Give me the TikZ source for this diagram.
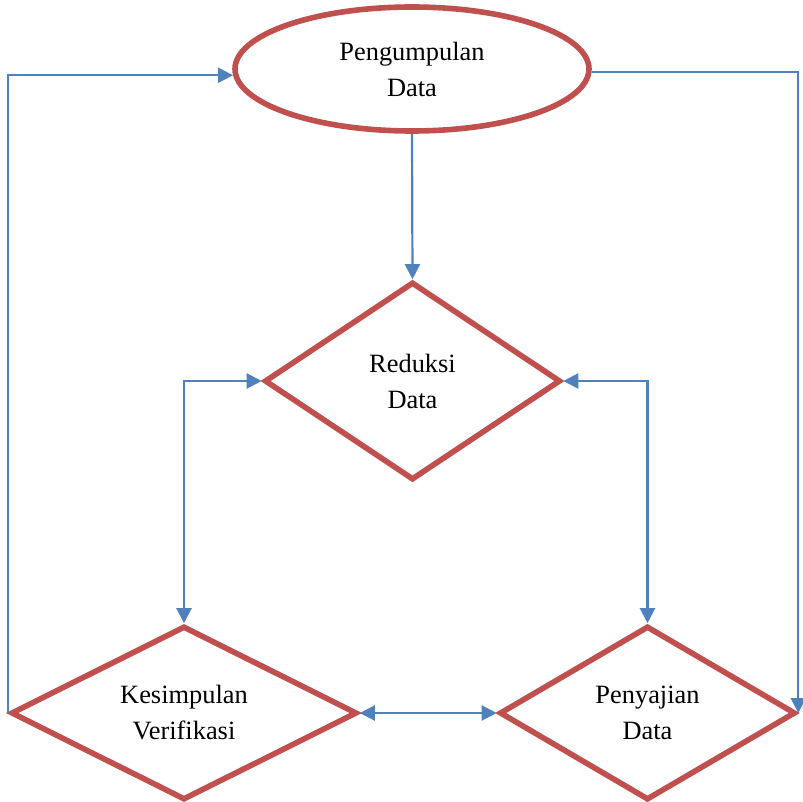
\documentclass[tikz,border=0pt]{standalone}
\usepackage{fontspec}
\setmainfont{Liberation Serif}
\usetikzlibrary{shapes.geometric,arrows.meta}
\definecolor{ored}{HTML}{C0504D}
\definecolor{oblue}{HTML}{4F81BD}
\begin{document}
\begin{tikzpicture}
[   x=0.5pt,y=-0.5pt,
    >={Triangle[length=7.5pt,width=7.5pt]},
    txt/.style={align=center,font=\fontsize{13.2}{18}\selectfont},
    enode/.style={ellipse,draw=ored,line width=2.8pt,inner sep=0pt,minimum width=177pt,minimum height=62pt,txt},
    dnode/.style={diamond,draw=ored,line width=2.8pt,inner sep=0pt,aspect=2,minimum width=#1,minimum height=87pt,txt},
    flow/.style={draw=oblue,line width=1.1pt},
]
    \useasboundingbox (0,0) rectangle (803,802);
    \node[enode] (peng) at (412,69) {Pengumpulan\\Data};
    \node[dnode=148pt,minimum height=99pt,aspect=1.5] (red) at (412.5,381) {Reduksi\\Data};
    \node[dnode=173pt] (kes) at (184,713) {Kesimpulan\\Verifikasi};
    \node[dnode=148pt] (pen) at (647.5,713) {Penyajian\\Data};
    \draw[flow,->] (peng.south) -- (red.north);
    \draw[flow,->] (kes.west) |- (peng.182);
    \draw[flow,->] (peng.-1.5) -| (pen.east);
    \draw[flow,<->] (kes.north) |- (red.west);
    \draw[flow,<->] (red.east) -| (pen.north);
    \draw[flow,<->] (kes.east) -- (pen.west);
\end{tikzpicture}
\end{document}
